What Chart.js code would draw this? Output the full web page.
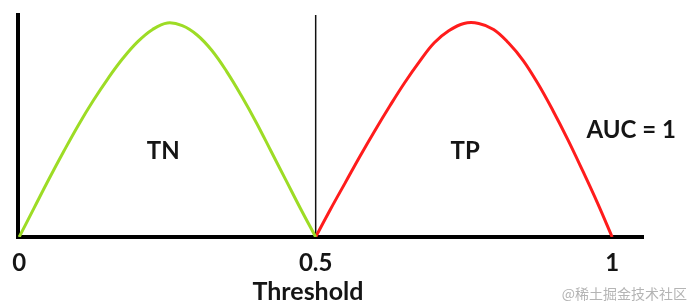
<!DOCTYPE html>
<html>
<head>
<meta charset="utf-8">
<script src="https://cdn.jsdelivr.net/npm/chart.js@4/dist/chart.umd.min.js"></script>
<style>
  html, body { margin: 0; padding: 0; background: #ffffff; }
  #wrap { width: 690px; height: 306px; position: relative; }
</style>
</head>
<body>
<div id="wrap"><canvas id="c" width="690" height="306"></canvas></div>
<script>
// ---- data ----
const tnX = [0, 0.025, 0.05, 0.075, 0.1, 0.125, 0.15, 0.175, 0.2, 0.225, 0.25, 0.275, 0.3, 0.325, 0.35, 0.375, 0.4, 0.425, 0.45, 0.475, 0.5];
const tnY = [0, 0.13, 0.26, 0.385, 0.505, 0.615, 0.715, 0.805, 0.88, 0.935, 0.964, 0.952, 0.91, 0.84, 0.745, 0.635, 0.515, 0.385, 0.255, 0.125, 0];
const tpX = [0.5, 0.525, 0.55, 0.575, 0.6, 0.625, 0.65, 0.675, 0.7, 0.725, 0.75, 0.775, 0.8, 0.825, 0.85, 0.875, 0.9, 0.925, 0.95, 0.975, 1.0];
const tpY = [0, 0.125, 0.245, 0.365, 0.48, 0.59, 0.695, 0.79, 0.875, 0.93, 0.962, 0.962, 0.935, 0.875, 0.795, 0.69, 0.57, 0.44, 0.30, 0.155, 0];
const thresholdX = [0.5, 0.5];
const thresholdY = [0, 1];
const tickValues = [0, 0.5, 1];
const tickLabels = ['0', '0.5', '1'];
const axisTitle = 'Threshold';
const annotations = [
  { text: 'TN', x: 0.243, y: 0.387 },
  { text: 'TP', x: 0.752, y: 0.387 },
  { text: 'AUC = 1', x: 1.032, y: 0.48 }
];
const watermark = '@稀土掘金技术社区';

const toPts = (xs, ys) => xs.map((x, i) => ({ x: x, y: ys[i] }));

const FONT = 'Lato, "Open Sans", "DejaVu Sans", sans-serif';

const textPlugin = {
  id: 'texts',
  afterDraw(chart) {
    const ctx = chart.ctx;
    const xs = chart.scales.x, ys = chart.scales.y;
    ctx.save();
    ctx.fillStyle = '#151515';
    ctx.font = 'bold 24px ' + FONT;
    ctx.textAlign = 'center';
    ctx.textBaseline = 'middle';
    annotations.forEach(a => {
      ctx.fillText(a.text, xs.getPixelForValue(a.x), ys.getPixelForValue(a.y));
    });
    // axis title under the 0.5 tick
    ctx.font = 'bold 25px ' + FONT;
    ctx.textBaseline = 'alphabetic';
    ctx.fillText(axisTitle, xs.getPixelForValue(0.487), 300);
    // watermark
    ctx.font = '14px "Noto Sans CJK SC", sans-serif';
    ctx.fillStyle = '#b4b4b4';
    ctx.textAlign = 'right';
    ctx.fillText(watermark, 687, 299);
    ctx.restore();
  }
};

new Chart(document.getElementById('c'), {
  type: 'scatter',
  data: {
    datasets: [
      { data: toPts(tnX, tnY), showLine: true, borderColor: '#9ddc25', borderWidth: 3, pointRadius: 0, tension: 0.4, fill: false },
      { data: toPts(tpX, tpY), showLine: true, borderColor: '#ff1c1c', borderWidth: 3, pointRadius: 0, tension: 0.4, fill: false },
      { data: toPts(thresholdX, thresholdY), showLine: true, borderColor: '#111111', borderWidth: 1.5, pointRadius: 0, fill: false }
    ]
  },
  options: {
    responsive: false,
    animation: false,
    layout: { padding: { left: 18, right: 47, top: 15, bottom: 0 } },
    plugins: { legend: { display: false }, tooltip: { enabled: false } },
    scales: {
      x: {
        type: 'linear',
        min: -0.002,
        max: 1.052,
        grid: { display: false },
        border: { display: true, color: '#000000', width: 4 },
        afterBuildTicks: (s) => { s.ticks = tickValues.map(v => ({ value: v })); },
        afterFit: (s) => { s.height = 69; },
        ticks: {
          padding: 4,
          color: '#151515',
          font: { family: FONT, size: 24, weight: 'bold' },
          maxRotation: 0,
          autoSkip: false,
          callback: (v) => tickLabels[tickValues.indexOf(v)]
        }
      },
      y: {
        type: 'linear',
        min: 0,
        max: 1,
        grid: { display: false },
        border: { display: true, color: '#000000', width: 4 },
        ticks: { display: false },
        afterFit: (s) => { s.width = 0; }
      }
    }
  },
  plugins: [textPlugin]
});
</script>
</body>
</html>
